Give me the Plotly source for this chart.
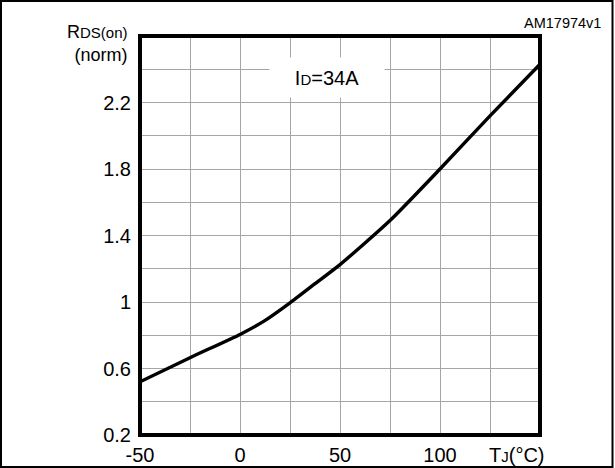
import plotly.graph_objects as go

# Data
tj = [-50, -25, 0, 12, 25, 37.5, 50, 75, 100, 125, 150]
rds_norm = [0.52, 0.665, 0.805, 0.885, 0.995, 1.11, 1.225, 1.49, 1.80, 2.12, 2.43]

x_tickvals = [-50, -25, 0, 25, 50, 75, 100, 125, 150]
x_ticktext = ["-50", "", "0", "", "50", "", "100", "", ""]
y_tickvals = [0.2, 0.4, 0.6, 0.8, 1.0, 1.2, 1.4, 1.6, 1.8, 2.0, 2.2, 2.4, 2.6]
y_ticktext = ["0.2", "", "0.6", "", "1", "", "1.4", "", "1.8", "", "2.2", "", ""]

W, H = 615, 468
L, R, T, B = 140, 75, 36, 33
pw, ph = W - L - R, H - T - B

def px_to_paper_x(px):
    return (px - L) / pw

def px_to_paper_y(py):
    return (H - B - py) / ph

FONT = "Liberation Sans, Arial, sans-serif"

fig = go.Figure()
fig.add_trace(go.Scatter(x=tj, y=rds_norm, mode="lines",
                         line=dict(color="black", width=3.4, shape="spline", smoothing=0.6),
                         showlegend=False, hoverinfo="skip"))

fig.update_layout(
    width=W, height=H, autosize=False,
    margin=dict(l=L, r=R, t=T, b=B, pad=0, autoexpand=False),
    paper_bgcolor="white", plot_bgcolor="white",
    font=dict(family=FONT, size=20, color="black"),
    xaxis=dict(range=[-50, 150], tickmode="array", tickvals=x_tickvals,
               ticktext=x_ticktext, showgrid=True, gridcolor="#a6a6a6",
               gridwidth=1, zeroline=False, showline=False, ticks="",
               ticklabelstandoff=6, automargin=False, fixedrange=True),
    yaxis=dict(range=[0.2, 2.6], tickmode="array", tickvals=y_tickvals,
               ticktext=y_ticktext, showgrid=True, gridcolor="#a6a6a6",
               gridwidth=1, zeroline=False, showline=False, ticks="",
               ticklabelstandoff=8, automargin=False, fixedrange=True),
)

shapes = [
    dict(type="rect", xref="paper", yref="paper", x0=0, x1=1, y0=0, y1=1,
         line=dict(color="black", width=4), layer="above"),
    dict(type="rect", xref="paper", yref="paper",
         x0=px_to_paper_x(1), x1=px_to_paper_x(612.5),
         y0=px_to_paper_y(467), y1=px_to_paper_y(1),
         line=dict(color="black", width=2), layer="above"),
]
fig.update_layout(shapes=shapes)

small = "<span style='font-size:15px'>{}</span>"
annotations = [
    dict(text="I" + small.format("D") + "=34A", xref="x", yref="y",
         x=43.5, y=2.35, showarrow=False, bgcolor="white",
         width=112, height=37, borderpad=1, font=dict(size=20)),
    dict(text="R" + small.format("DS(on)") + "<br>(norm)", xref="paper", yref="paper",
         x=0, xanchor="right", xshift=-10, y=px_to_paper_y(43), yanchor="middle",
         showarrow=False, align="right", font=dict(size=18)),
    dict(text="T" + small.format("J") + "(°C)", xref="paper", yref="paper",
         x=1, xanchor="right", xshift=6, y=0, yanchor="top", yshift=-7,
         showarrow=False, font=dict(size=20)),
    dict(text="AM17974v1", xref="paper", yref="paper",
         x=px_to_paper_x(603), xanchor="right", y=px_to_paper_y(23), yanchor="middle",
         showarrow=False, font=dict(size=14.5)),
]
fig.update_layout(annotations=annotations)

fig.write_html("out.html")
